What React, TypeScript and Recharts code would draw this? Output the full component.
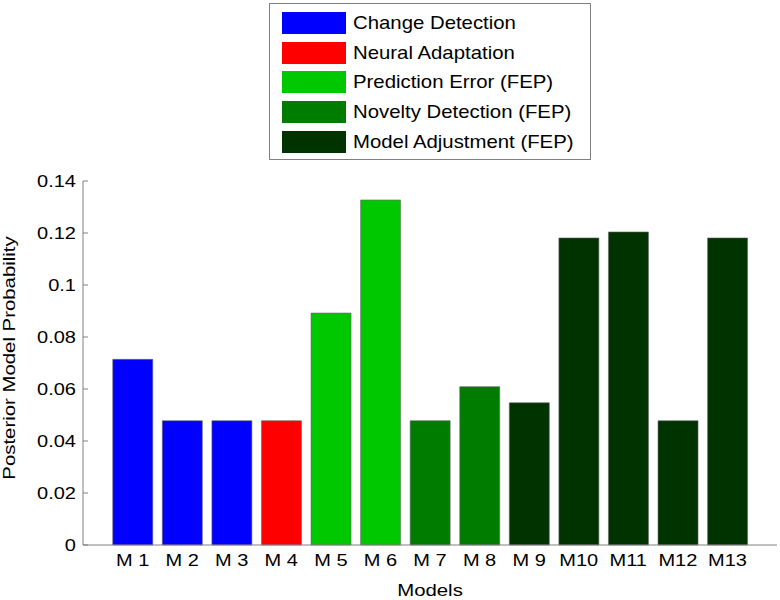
import { BarChart, Bar, XAxis, YAxis, Cell } from 'recharts';

const models = ['M 1', 'M 2', 'M 3', 'M 4', 'M 5', 'M 6', 'M 7', 'M 8', 'M 9', 'M10', 'M11', 'M12', 'M13'];
const probabilities = [0.0714, 0.0478, 0.0478, 0.0478, 0.0892, 0.1327, 0.0478, 0.0609, 0.0547, 0.1181, 0.1204, 0.0478, 0.1181];
const modelGroup = [0, 0, 0, 1, 2, 2, 3, 3, 4, 4, 4, 4, 4];

const groupNames = [
  'Change Detection',
  'Neural Adaptation',
  'Prediction Error (FEP)',
  'Novelty Detection (FEP)',
  'Model Adjustment (FEP)'
];
const groupColors = ['#0000ff', '#ff0000', '#00c800', '#007d00', '#003300'];

const yTicks = [0, 0.02, 0.04, 0.06, 0.08, 0.1, 0.12, 0.14];

const data = models.map((m, i) => ({ model: m, p: probabilities[i], group: modelGroup[i] }));

const FONT = '"Liberation Sans", Arial, sans-serif';
const AXIS = '#808080';
const STRETCH = 1.25;

const XTick = ({ x, y, payload }: any) => (
  <g transform={`translate(${x},${y})`}>
    <text transform={`scale(${STRETCH},1)`} textAnchor="middle" dy="0.71em" fontSize={16} fontFamily={FONT} fill="#000">
      {payload.value}
    </text>
  </g>
);

const YTick = ({ x, y, payload }: any) => (
  <g transform={`translate(${x},${y})`}>
    <text transform={`scale(${STRETCH},1)`} textAnchor="end" dy="0.355em" fontSize={16} fontFamily={FONT} fill="#000">
      {String(payload.value)}
    </text>
  </g>
);

const NoTick = () => <g />;

const XTitle = ({ viewBox }: any) => (
  <g transform={`translate(${viewBox.x + viewBox.width / 2},${viewBox.y + 51})`}>
    <text transform={`scale(${STRETCH},1)`} textAnchor="middle" fontSize={16.3} fontFamily={FONT} fill="#000">
      Models
    </text>
  </g>
);

const YTitle = ({ viewBox }: any) => (
  <g transform={`translate(15,${viewBox.y + viewBox.height / 2 - 5}) rotate(-90)`}>
    <text transform={`scale(${STRETCH},1)`} textAnchor="middle" fontSize={16.3} fontFamily={FONT} fill="#000">
      Posterior Model Probability
    </text>
  </g>
);

const LegendBox = () => (
  <div
    style={{
      position: 'absolute',
      left: 269,
      top: 3,
      width: 322,
      height: 157,
      border: `1px solid ${AXIS}`,
      background: '#fff',
      boxSizing: 'border-box',
      padding: '4px 0 0 12px',
      fontFamily: FONT
    }}
  >
    {groupNames.map((name, i) => (
      <div key={name} style={{ display: 'flex', alignItems: 'center', height: 29.75 }}>
        <div style={{ width: 64, height: 22, background: groupColors[i], flexShrink: 0 }} />
        <span
          style={{
            marginLeft: 7,
            fontSize: 18.5,
            whiteSpace: 'nowrap',
            display: 'inline-block',
            transform: 'scaleX(1.1)',
            transformOrigin: 'left center'
          }}
        >
          {name}
        </span>
      </div>
    ))}
  </div>
);

export default function App() {
  const pad = { left: 24.8, right: 24.8 };
  return (
    <div style={{ position: 'absolute', left: 0, top: 0, width: 780, height: 600, background: '#fff' }}>
      <BarChart
        width={780}
        height={600}
        data={data}
        margin={{ top: 181, right: 3, bottom: 0, left: 0 }}
        barCategoryGap="10%"
      >
        <XAxis
          dataKey="model"
          xAxisId="bottom"
          height={55}
          padding={pad}
          stroke={AXIS}
          tickLine={false}
          tick={<XTick />}
          tickSize={-5}
          tickMargin={15}
          interval={0}
          label={{ content: (p: any) => <XTitle viewBox={p.viewBox} /> }}
        />
        <XAxis
          dataKey="model"
          xAxisId="top"
          orientation="top"
          height={0}
          padding={pad}
          stroke={AXIS}
          tick={<NoTick />}
          tickSize={-5}
          interval={0}
        />
        <YAxis
          yAxisId="left"
          width={83}
          domain={[0, 0.14]}
          ticks={yTicks}
          stroke={AXIS}
          tick={<YTick />}
          tickSize={-5}
          tickMargin={12}
          interval={0}
          label={{ content: (p: any) => <YTitle viewBox={p.viewBox} /> }}
        />
        <YAxis
          yAxisId="right"
          orientation="right"
          width={0}
          domain={[0, 0.14]}
          ticks={yTicks}
          stroke={AXIS}
          tick={<NoTick />}
          tickSize={-5}
          interval={0}
        />
        <Bar dataKey="p" xAxisId="bottom" yAxisId="left" stroke="#666" strokeWidth={0.6} isAnimationActive={false}>
          {data.map((d, i) => (
            <Cell key={i} fill={groupColors[d.group]} />
          ))}
        </Bar>
      </BarChart>
      <LegendBox />
    </div>
  );
}
